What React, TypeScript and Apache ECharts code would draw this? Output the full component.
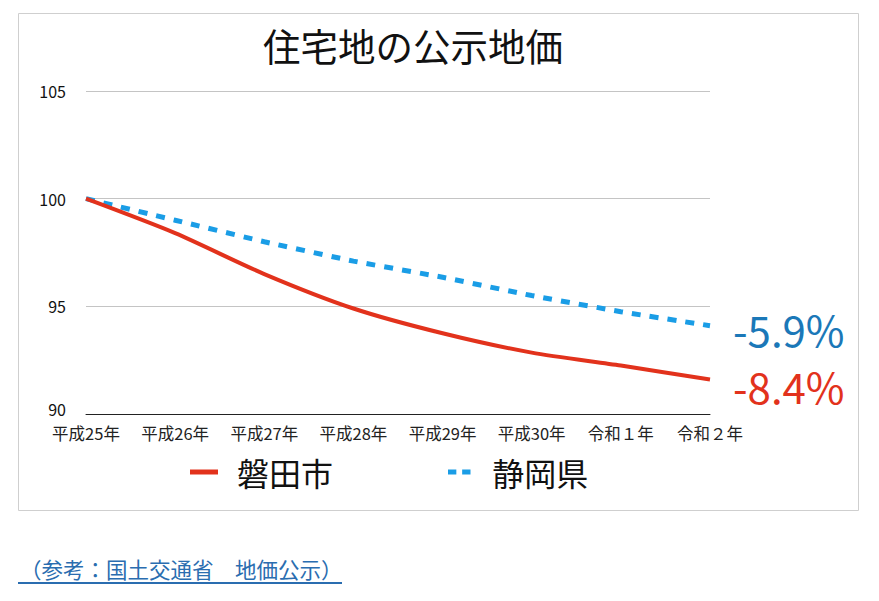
import React, { useEffect, useRef } from "react";
import * as echarts from "echarts";

const categories = ["平成25年", "平成26年", "平成27年", "平成28年", "平成29年", "平成30年", "令和１年", "令和２年"];
const iwataValues = [100, 98.4, 96.5, 94.9, 93.75, 92.85, 92.25, 91.6];
const shizuokaValues = [100, 99.0, 98.0, 97.1, 96.35, 95.5, 94.75, 94.1];
const seriesNames = ["磐田市", "静岡県"];
const yTicks = { min: 90, max: 105, interval: 5 };
const titleText = "住宅地の公示地価";
const sourceText = "（参考：国土交通省　地価公示）";

const FONT = "'Noto Sans CJK JP', 'Noto Sans', sans-serif";
const RED = "#e2321c";
const BLUE = "#1a9de6";

const pct = (arr: number[]) => ((arr[arr.length - 1] / arr[0] - 1) * 100).toFixed(1) + "%";

export default function App() {
  const ref = useRef<HTMLDivElement>(null);
  useEffect(() => {
    document.body.style.margin = "0";
    const chart = echarts.init(ref.current!, null, { renderer: "svg" });
    chart.setOption({
      animation: false,
      backgroundColor: "#fff",
      textStyle: { fontFamily: FONT },
      title: {
        text: titleText,
        left: 258,
        top: 21,
        textStyle: { fontSize: 37.5, fontWeight: "normal", color: "#111", fontFamily: FONT },
      },
      grid: { left: 86, right: 169, top: 91, bottom: 187 },
      xAxis: {
        type: "category",
        data: categories,
        boundaryGap: false,
        axisLine: { lineStyle: { color: "#222", width: 1 } },
        axisTick: { show: false },
        axisLabel: { fontSize: 16.5, color: "#222", margin: 11, interval: 0, fontFamily: FONT },
      },
      yAxis: {
        type: "value",
        min: yTicks.min,
        max: yTicks.max,
        interval: yTicks.interval,
        axisLine: { show: false },
        axisTick: { show: false },
        splitLine: { lineStyle: { color: "#c4c4c4", width: 1 } },
        axisLabel: {
          fontSize: 16,
          lineHeight: 16,
          color: "#111",
          margin: 20,
          fontFamily: FONT,
          formatter: (v: number) => (v === yTicks.min ? `{low|${v}}` : String(v)),
          rich: {
            low: { fontSize: 16, lineHeight: 16, color: "#111", fontFamily: FONT, padding: [0, 0, 10, 0] },
          },
        },
      },
      legend: {
        left: 190,
        top: 456,
        padding: 0,
        itemGap: 115,
        itemWidth: 28,
        itemHeight: 5,
        textStyle: { fontSize: 32, color: "#111", fontFamily: FONT, padding: [0, 0, 0, 14] },
        data: [
          { name: seriesNames[0], icon: "rect" },
          { name: seriesNames[1], icon: "path://M0,0h10v6h-10zM17,0h10v6h-10z" },
        ],
      },
      series: [
        {
          name: seriesNames[0],
          type: "line",
          data: iwataValues,
          smooth: 0.25,
          showSymbol: false,
          color: RED,
          lineStyle: { color: RED, width: 4 },
          endLabel: {
            show: true,
            formatter: () => pct(iwataValues),
            color: RED,
            fontSize: 42,
            distance: 23,
            offset: [0, 6],
            fontFamily: FONT,
          },
          z: 3,
        },
        {
          name: seriesNames[1],
          type: "line",
          data: shizuokaValues,
          smooth: 0.1,
          showSymbol: false,
          color: BLUE,
          lineStyle: { color: BLUE, width: 5, type: [9, 9] },
          endLabel: {
            show: true,
            formatter: () => pct(shizuokaValues),
            color: "#1b78b8",
            fontSize: 42,
            distance: 23,
            offset: [0, 3],
            fontFamily: FONT,
          },
          z: 2,
        },
      ],
      graphic: [
        {
          type: "rect",
          shape: { x: 18.5, y: 13.5, width: 840, height: 497 },
          style: { fill: "none", stroke: "#cfcfcf", lineWidth: 1 },
          silent: true,
          z: -1,
        },
        {
          type: "text",
          left: 20,
          top: 558,
          style: { text: sourceText, fontSize: 21.5, fill: "#2a6db0", fontFamily: FONT },
        },
        {
          type: "line",
          shape: { x1: 18, y1: 583, x2: 342, y2: 583 },
          style: { stroke: "#2a6db0", lineWidth: 2 },
        },
      ],
    });
    return () => chart.dispose();
  }, []);
  return <div ref={ref} style={{ width: 879, height: 601 }} />;
}
